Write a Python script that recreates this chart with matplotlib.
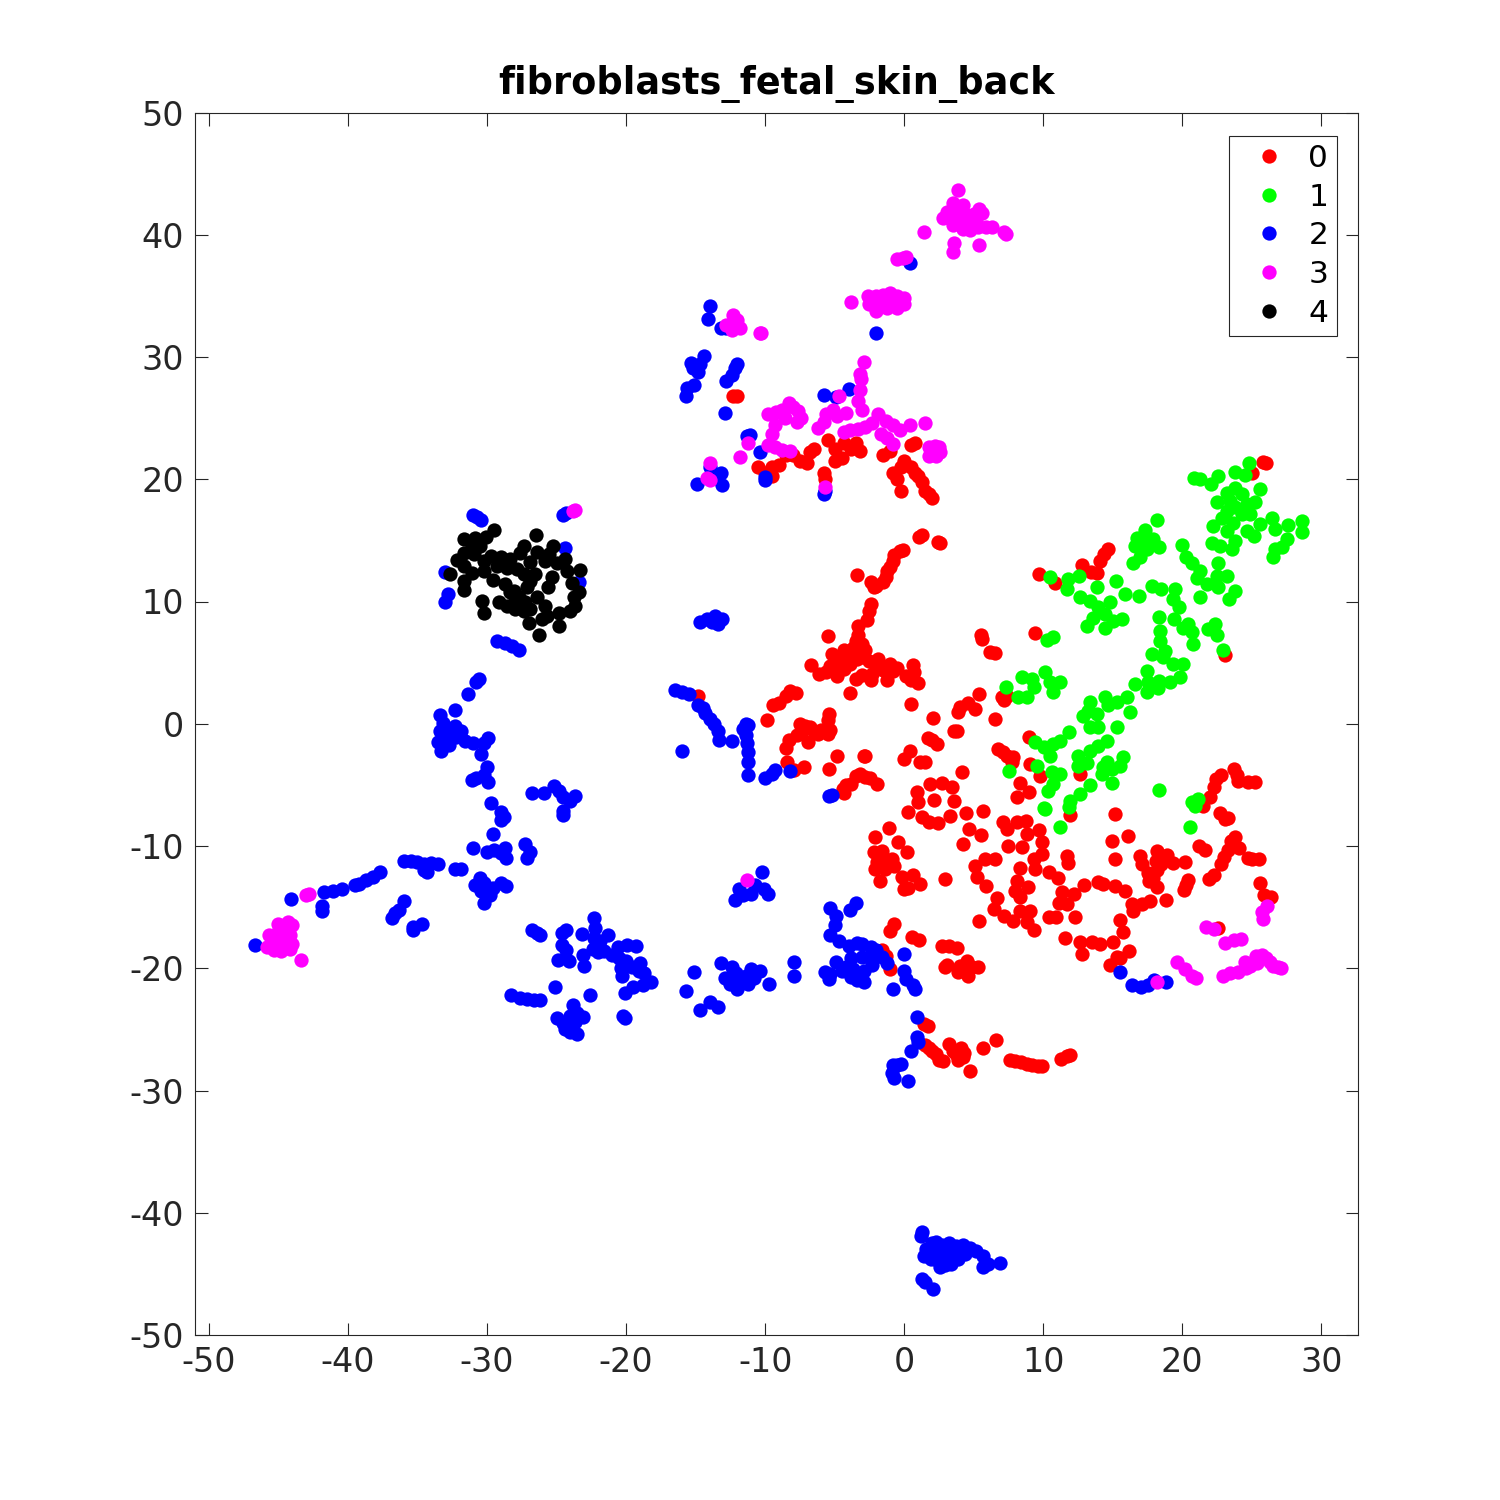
import matplotlib
matplotlib.use("Agg")
import matplotlib.pyplot as plt
import numpy as np

plt.rcParams["axes.unicode_minus"] = False

title = "fibroblasts_fetal_skin_back"
labels = ["0", "1", "2", "3", "4"]
colors = ["#ff0000", "#00ff00", "#0000ff", "#ff00ff", "#000000"]
xticks = [-50, -40, -30, -20, -10, 0, 10, 20, 30]
yticks = [-50, -40, -30, -20, -10, 0, 10, 20, 30, 40, 50]

# values, one list per cluster label
cluster0 = [
    (-12.3, 26.8), (-12, 26.8), (-10.5, 21), (-10, 20.5), (-9.5, 20.3), (-9.5, 21), (-9, 21.2), (-8.5, 22),
    (-8, 22), (-7.5, 21.5), (-7, 21.3), (-6.8, 22.2), (-6.5, 22.5), (-5.8, 20.5), (-5.7, 20), (-5.5, 23.2),
    (-5, 22.5), (-5, 21.5), (-4.5, 21.7), (-4.3, 23), (-3.8, 22.5), (-3.5, 23), (-3.2, 22.3), (-1.5, 22),
    (-1, 22.3), (-0.8, 20.5), (-0.5, 20), (-0.2, 21), (0, 21.5), (-0.2, 19), (0.5, 22.8), (0.8, 23),
    (0.5, 21), (0.8, 20.5), (1, 20.3), (1.3, 19.8), (1.5, 19), (1.8, 18.8), (2, 18.5),
    (1.1, 15.3), (1.3, 15.4), (2.4, 14.9), (2.6, 14.8), (-0.3, 14.1), (-0.1, 14.2), (-0.7, 13.8), (-0.8, 13.3),
    (-1, 12.8), (-1.2, 12.5), (-3.4, 12.2), (-1.3, 12), (-1.5, 11.6), (-2, 11.3), (-2.4, 11.6), (-2.2, 11.2),
    (-2.4, 9.8), (-2.5, 9.2), (-2.7, 8.5), (-3.3, 8), (-3.3, 7.3), (-3.5, 6.8), (-3, 6.5), (-2.8, 6),
    (-3.7, 6.2), (-4, 5.9), (-4.5, 5.5), (-5, 5), (-5.3, 4.7), (-5.6, 4.2), (-4.3, 4.5), (-3.9, 4.9),
    (-3.4, 5.3), (-3, 5.5), (-2.5, 5.1), (-2, 4.8), (-1.5, 4.4), (-1, 4.9), (-0.8, 4.3), (-0.5, 4.6),
    (-1.9, 5.3), (-2.3, 4.1), (-3, 4), (-3.5, 3.7), (-3.9, 2.5), (-5.5, 7.2), (-6.7, 4.8), (-6.1, 4.1),
    (-4.8, 3.9), (-5.2, 5.7), (-4.3, 6), (-2.4, 3.6), (-1.2, 3.6), (0.1, 3.9), (0.5, 3.6), (1, 3.3),
    (0.6, 4.8), (0.7, 4.2), (0.5, 1.6), (-14.8, 2.3),
    (-9.9, 0.3), (-9.4, 1.5), (-9, 1.7), (-8.5, 2.3), (-8.2, 2.7), (-7.8, 2.5), (-7.5, 0), (-7.3, -0.5),
    (-7.1, -0.2), (-6.8, -0.3), (-6.5, -0.6), (-6.2, -0.8), (-6, -0.5), (-5.5, 0.3), (-5.4, 0.8), (-5.5, -0.8),
    (-5.3, -0.5), (-7.7, -0.9), (-8.3, -1.3), (-8.5, -2), (-8.4, -3.1), (-7.9, -3.8), (-7.2, -3.5), (-6.9, -1.5),
    (-4.8, -2.6), (-2.9, -2.6), (-5.4, -3.7), (-3.5, -4.3), (-3.2, -4.1), (-3.8, -4.9), (-4.2, -5), (-4.3, -5.7),
    (-4.4, -5.3), (1.7, -1.2), (2, -1.3), (2.1, 0.5), (3.6, -0.6), (3.8, -0.6),
    (3.9, 1), (4, 1.4), (4.6, 1.7), (5.1, 1.2), (5.4, 2.4), (6.5, 0.4), (5.5, 7.3),
    (5.6, 6.9), (6.2, 5.9), (6.5, 5.8), (7, 2.2), (7.4, 2.3), (9.4, 7.4), (7.19, 1.93), (9.73, 12.24),
    (10.85, 11.5), (12.77, 13), (13.4, 12.4), (13.85, 12.32), (14.09, 13.33), (14.4, 13.9), (14.69, 14.28), (23.08, 5.64),
    (9.01, -1.12), (7.14, -2.35), (7.86, -2.75),
    # middle of the red group
    (-2.8, -2.6), (-0.04, -2.89), (0.43, -2.21), (1.15, -3.16), (1.51, -3.16), (4.15, -3.98), (2.35, -1.66), (1.87, -4.93),
    (2.71, -4.88), (3.43, -5.2), (0.91, -5.61), (0.96, -6.43), (2.11, -6.24), (3.55, -6.3), (0.27, -7.25), (1.27, -7.66),
    (1.75, -8.01), (2.42, -8.09), (3.31, -7.52), (4.46, -7.3), (4.63, -8.61), (5.66, -7.17), (5.51, -9.1), (4.2, -9.84),
    (7.14, -8.07), (7.38, -8.61), (8.1, -8.07), (8.75, -7.93), (8.82, -9.02), (9.66, -8.69), (7.5, -9.98), (8.46, -10.06),
    (9.9, -9.7), (9.3, -11.07), (9.9, -10.66), (9.42, -11.88), (10.38, -12.16), (11.05, -12.62), (11.7, -10.79), (11.75, -11.39),
    (6.55, -11.07), (5.83, -11.07), (5.11, -11.61), (5.23, -12.56), (5.87, -13.25), (8.3, -11.8), (8.1, -12.84), (8.94, -13.33),
    (7.98, -13.65), (6.66, -14.25), (6.43, -15.15), (7.19, -15.7), (7.86, -16.11), (8.34, -15.29), (9.06, -15.29), (8.82, -16.24),
    (9.3, -16.87), (5.4, -16.11), (8.34, -14.2), (10.38, -15.84), (10.93, -15.84), (12.3, -15.84), (11.7, -14.75), (11.1, -14.69),
    (11.34, -13.79), (12.22, -13.93), (12.9, -13.16), (13.97, -12.92), (14.33, -13.11), (15.17, -7.39), (14.93, -9.57), (16.06, -9.16),
    (15.17, -11.07), (16.97, -10.79), (17.09, -11.47), (15.17, -13.25), (15.89, -13.65), (16.37, -14.75), (16.44, -15.29), (17.09, -14.75),
    (17.69, -14.47), (18.17, -13.38), (17.57, -12.84), (18.17, -10.38), (15.53, -16.05), (15.77, -17.06), (11.53, -17.52), (12.66, -17.88),
    (13.5, -17.88), (14.09, -18.02), (15.05, -17.88), (16.2, -18.62), (12.78, -18.83), (15.29, -19.1), (2.95, -12.7), (2.71, -18.15),
    (3.19, -18.2), (3.79, -18.37), (0.55, -17.47), (1.1, -17.66), (-0.76, -16.38), (-1, -16.93), (-2.08, -9.24), (-1.08, -8.53),
    (-0.48, -9.65), (0.19, -10.52), (-2.2, -10.52), (-1.6, -10.38), (-1.96, -11.34), (-1.36, -11.2), (-0.88, -11.07), (-2.08, -11.88),
    (-1.36, -11.88), (-0.76, -11.61), (-1.72, -12.84), (-0.16, -12.56), (0.67, -12.35), (1.15, -13.11), (-0.04, -13.52), (0.31, -13.46),
    (-2.8, -4.39), (-2.44, -4.44), (-1.96, -4.93), (6.78, -2.07), (7.38, -2.62), (7.74, -3.16), (9.06, -3.3), (9.78, -4.25),
    (12.66, -4.1), (8.34, -4.88), (9.01, -5.56), (8.1, -5.97), (11.94, -7.44), (17.9, -12.6), (18.2, -12), (18.5, -11.5),
    (17.5, -12.2), (18.1, -11.2),
    # right side
    (18.8, -14.4), (18.9, -10.7), (19.3, -11.4), (20.1, -13.6), (20.2, -11.3), (20.4, -12.8), (20.3, -13.2),
    (21.2, -10), (21.6, -10.3), (21.9, -12.7), (22.3, -12.4), (22.6, -16.7), (23.1, -7.8), (22.7, -7.3), (23.3, -7.7),
    (23.5, -9.6), (23.8, -9.3), (23.3, -10.3), (24.1, -10.2), (23, -10.9), (22.8, -11.5), (24.7, -11), (25, -11.1),
    (25.5, -11.1), (25.6, -13), (25.9, -14), (26.4, -14.2), (21.5, -6.7), (22, -6), (22.3, -5.2), (22.4, -4.5),
    (22.8, -4.2), (23.7, -3.7), (23.9, -4.2), (24, -4.7), (24.7, -4.8), (25.2, -4.8), (25.8, 21.4), (26, 21.3), (25, 20.5),
    # bottom
    (-1.6, -18.5), (-1.3, -19), (-1, -20.1), (14.8, -19.7), (15.5, -19.2),
    (2.9, -19.9), (3.1, -19.7), (4, -19.8), (4.5, -19.4), (4.9, -19.9), (3.9, -20.3),
    (4.6, -20.6), (5.3, -19.9), (1.4, -24.6), (1.7, -24.7), (1.5, -26.3), (1.8, -26.5), (2, -26.8), (2.3, -27),
    (2.5, -27.5), (2.8, -27.6), (3.2, -26.2), (3.5, -26.8), (3.7, -27), (3.9, -27.5), (4.1, -26.5), (4.3, -26.9),
    (4.2, -27.3), (4.7, -28.4), (5.7, -26.5), (6.6, -25.9), (7.6, -27.5), (8, -27.6), (8.4, -27.7), (8.8, -27.8),
    (9.2, -27.9), (9.6, -28), (9.9, -28), (11.3, -27.4), (11.7, -27.2), (11.9, -27.1),
]

cluster1 = [
    (24.82, 21.37), (23.79, 20.63), (24.51, 20.36), (22.6, 20.28), (22.05, 19.59), (20.85, 20.09), (21.28, 20), (25.59, 19.19),
    (23.79, 19.32), (23.2, 18.91), (24.27, 18.78), (22.52, 18.15), (23.43, 18.23), (25.23, 18.1), (24.63, 17.96), (23.79, 17.69),
    (23.2, 17.41), (24.27, 17.14), (24.87, 17.14), (22.84, 16.87), (22.24, 16.19), (23.67, 16.46), (24.63, 15.78), (25.16, 15.37),
    (25.59, 16.38), (26.48, 16.87), (26.67, 15.91), (27.63, 16.27), (28.63, 16.6), (28.63, 15.7), (27.51, 15.1), (27.15, 14.42),
    (26.67, 14.28), (26.55, 13.6), (23.2, 15.78), (23.79, 14.96), (23.55, 14.28), (22.12, 14.82), (22.72, 14.55), (19.96, 14.61),
    (20.27, 13.6), (20.68, 13.19), (21.28, 12.5), (21.04, 11.96), (22.6, 13.11), (23.2, 12.1), (22.48, 12.1), (21.76, 11.42),
    (22.6, 11.15), (21.28, 10.33), (23.79, 10.87), (23.39, 10.19), (18.16, 16.65), (17.32, 15.86), (16.72, 15.23), (17.2, 14.96),
    (17.92, 15.1), (18.35, 14.47), (16.61, 14.55), (17.44, 14.28), (16.96, 13.6), (16.49, 13.13), (12.58, 12.1), (11.81, 11.83),
    (11.74, 11.01), (10.49, 12.02), (15.24, 11.69), (15.89, 10.65), (13.85, 11.2), (16.92, 10.46), (17.8, 11.28), (18.45, 11.01),
    (12.65, 10.33), (13.37, 10.05), (14.81, 9.92), (19.48, 11.01), (19.36, 10.19), (19.77, 9.59), (13.97, 9.51), (14.45, 8.96),
    (15.65, 8.56), (15.05, 8.42), (13.18, 8), (13.61, 8.69), (14.45, 7.87), (18.35, 8.77), (19.41, 8.56), (20.44, 8.2),
    (18.4, 7.6), (20.08, 7.87), (20.8, 6.51), (20.68, 7.47), (21.88, 7.74), (22.36, 8.2), (22.48, 7.25), (22.91, 6.02),
    (10.25, 6.84), (10.69, 7.06), (18.4, 6.78), (18.76, 5.97), (17.85, 5.69), (18.64, 5.42), (19.36, 4.88), (20.08, 4.88),
    (17.44, 4.33), (19.84, 3.79), (19.12, 3.38), (18.35, 3.51), (16.6, 3.24), (17.56, 3.38), (17.44, 2.56), (18.28, 2.91),
    (16.01, 2.21), (15.29, 1.82), (14.45, 2.21), (16.25, 1), (13.37, 1.74), (13.25, 1.06), (12.89, 0.6), (14.69, 1.55),
    (13.85, 0.79), (13.37, -0.3), (13.97, -0.3), (15.29, -0.3), (8.46, 3.79), (9.18, 3.65), (10.14, 4.2), (11.21, 3.38),
    (10.49, 3.38), (9.3, 2.97), (10.73, 2.56), (7.33, 2.97), (8.22, 2.2), (8.82, 2.15), (11.88, -0.71), (9.42, -1.53),
    (11.21, -1.39), (10.73, -1.66), (10.02, -1.94), (10.49, -2.62), (14.57, -1.39), (13.97, -1.8), (13.37, -2.21), (12.53, -2.62),
    (13.13, -3.25), (12.53, -3.44), (15.72, -2.75), (14.57, -3.16), (15.53, -3.44), (14.2, -4.12), (14.93, -4.88), (14.93, -3.71),
    (14.33, -3.57), (10.61, -3.98), (11.21, -4.12), (10.73, -4.94), (10.37, -5.48), (9.54, -3.44), (7.57, -3.84), (13.37, -5.02),
    (12.65, -5.75), (11.93, -6.3), (11.88, -6.84), (10.02, -6.9), (10.15, -6.95), (11.17, -8.48), (18.35, -5.43), (20.68, -6.43),
    (21.16, -6.16), (20.92, -6.7), (20.56, -8.42),
]

cluster2 = [
    (-14, 34.2), (-14.1, 33.1), (-13.2, 32.4), (-12.8, 32.4), (-14.4, 30.1), (-14.7, 29.4), (-15.3, 29.5), (-15.2, 29.1),
    (-14.8, 28.8), (-15.1, 27.7), (-15.6, 27.5), (-15.7, 26.8), (-12.4, 28.5), (-12.2, 29.1), (-12, 29.4), (-12.8, 28),
    (-12.9, 25.4), (-11.3, 23.5), (-11.1, 23.6), (-10.4, 22.2), (-10, 20.2), (-10, 19.9), (-13.2, 20.5), (-13.7, 20.1),
    (-14, 21), (-13.1, 19.5), (-14.9, 19.6), (-5.8, 18.8), (-5.7, 19), (-5.8, 26.9), (-4.9, 26.7), (-4, 27.4),
    (-2, 32), (0.4, 37.7), (-31, 17.1), (-30.7, 16.9), (-30.4, 16.7), (-24.5, 17.1), (-24.3, 17.2), (-24.4, 14.4),
    (-33, 12.4), (-23.4, 11.6), (-33, 10), (-32.8, 10.6), (-14.7, 8.3), (-14.2, 8.6), (-13.8, 8.3), (-13.4, 8.2),
    (-13.6, 8.8), (-13.1, 8.6), (-29.3, 6.8), (-28.7, 6.6), (-28.2, 6.4), (-27.7, 6), (-30.6, 3.7), (-30.8, 3.4),
    (-31.4, 2.4), (-32.3, 1.1), (-33.4, 0.7), (-33.2, 0.1), (-33.4, -0.6), (-33, -0.3), (-32.6, -0.4), (-32.3, -0.2),
    (-32.7, -1), (-32.2, -1.1), (-31.9, -0.6), (-33.5, -1.5), (-33.3, -2.2), (-32.7, -1.7), (-31.6, -1.4), (-31, -1.6),
    (-30.2, -1.6), (-29.9, -1.2), (-30.4, -2.5), (-30, -3.5), (-30.2, -4.2), (-31.1, -4.6), (-30.8, -4.4), (-29.9, -4.8),
    (-29.7, -6.5), (-29, -7.2), (-28.8, -7.6), (-29, -7.9), (-29.6, -9), (-31, -10.2), (-30, -10.5), (-29.5, -10.3),
    (-29, -10.6), (-28.7, -10.2), (-28.6, -11), (-27.3, -9.8), (-26.9, -10.5), (-27.1, -11), (-31.9, -11.9), (-32.3, -11.9),
    (-30.5, -12.6), (-30.2, -13), (-29.6, -13.4), (-29, -13), (-28.6, -13.3), (-30.9, -13.2), (-30.4, -13.7), (-29.8, -14),
    (-30.2, -14.7), (-37.7, -12.1), (-38.2, -12.5), (-38.7, -12.8), (-39.2, -13.1), (-39.5, -13.2), (-40.4, -13.5), (-41.1, -13.7),
    (-41.7, -13.8), (-41.9, -14.9), (-41.9, -15.3), (-44.1, -14.3), (-36, -11.2), (-35.5, -11.2), (-35, -11.3), (-34.5, -11.5),
    (-34, -11.4), (-33.5, -11.5), (-34.5, -12), (-34.3, -12.1), (-36, -14.5), (-36.3, -15.2), (-36.6, -15.5), (-36.8, -15.9),
    (-34.7, -16.4), (-35.3, -16.6), (-35.3, -16.9), (-46.7, -18.1), (-26.8, -5.7), (-25.9, -5.7), (-25.2, -5.1), (-24.8, -5.5),
    (-24.5, -6), (-24, -6.3), (-23.7, -5.9), (-24.5, -7.1), (-24.5, -7.5), (-28.3, -22.2), (-27.6, -22.4), (-27.1, -22.5),
    (-26.6, -22.6), (-26.2, -22.6), (-26.8, -16.9), (-26.4, -17.1), (-26.2, -17.3), (-24.6, -17.1), (-24.3, -16.9), (-23.2, -17.2),
    (-22.3, -15.9), (-22.2, -16.7), (-22.3, -17.5), (-21.9, -17.8), (-21.3, -17.3), (-24.6, -18.1), (-24.3, -18.5), (-24.9, -19.3),
    (-24.1, -19.4), (-23.1, -18.9), (-23, -19.8), (-22.4, -18.4), (-22, -18.7), (-21.6, -18.6), (-21, -18.9), (-20.6, -18.3),
    (-19.9, -18.1), (-19.3, -18.2), (-20.5, -19.2), (-20, -19.4), (-19.6, -19.9), (-19, -19.6), (-19.1, -20.2), (-20.4, -20),
    (-20.3, -20.6), (-18.7, -20.4), (-18.2, -21.1), (-18.8, -21.4), (-19.5, -21.5), (-20.1, -22), (-25.1, -21.5), (-23.8, -23),
    (-22.6, -22.2), (-24, -23.9), (-23.5, -23.7), (-25, -24.1), (-24.5, -24.5), (-23.7, -24.4), (-23.1, -24), (-24.4, -25),
    (-24, -25.2), (-23.5, -25.4), (-20.2, -23.9), (-20.1, -24.1), (-15.7, -21.9), (-15.1, -20.3), (-14.7, -23.4), (-14, -22.8),
    (-13.4, -23.2), (-13.2, -19.6), (-12.9, -20.8), (-12.4, -19.9), (-12.1, -20.4), (-11.7, -21), (-11.4, -20.6), (-11, -20.1),
    (-12.5, -21.3), (-12, -21.7), (-11.2, -21.3), (-10.8, -20.8), (-10.4, -20.2), (-9.7, -21.3), (-7.9, -19.5), (-7.9, -20.6),
    (-10.7, -13.2), (-10.2, -12.1), (-10.1, -13.5), (-9.8, -13.9), (-11, -13.9), (-11.6, -14), (-12.2, -14.4), (-11.9, -13.5),
    (-5.3, -15.1), (-4.9, -15.7), (-3.9, -15.2), (-3.5, -14.7), (-5, -16.5), (-5.3, -17.3), (-4.7, -17.8), (-4, -18.2),
    (-3.4, -17.9), (-3, -18), (-2.4, -18.3), (-2, -18.5), (-3.8, -19.2), (-3, -19.1), (-2.5, -19.1), (-1.6, -19.1),
    (-1.2, -19.6), (-5.7, -20.3), (-5.3, -20.5), (-4.9, -19.5), (-4.5, -20.2), (-4.2, -19.9), (-3.7, -20.1), (-2.9, -20.2),
    (-2.3, -19.7), (-5.4, -20.9), (-3.8, -20.7), (-3.4, -21), (-2.9, -21.1), (0, -20.2), (0, -18.8), (0.1, -20.9),
    (-0.8, -21.7), (0.6, -21.4), (0.8, -21.7), (0.9, -24), (0.9, -25.6), (1, -26), (0.5, -26.8), (-0.8, -27.9),
    (-0.5, -27.9), (-0.2, -27.8), (-0.9, -28.6), (-0.7, -29), (0.3, -29.2), (15.5, -20.3), (16.4, -21.4), (17, -21.5),
    (17.5, -21.4), (18, -21), (18.8, -21.1), (-16.5, 2.8), (-16, 2.6), (-15.5, 2.4), (-14.8, 1.5), (-14.5, 1.3),
    (-14.3, 0.9), (-14, 0.4), (-13.7, 0), (-13.4, -0.6), (-13.3, -1.3), (-12.4, -1.4), (-11.6, -0.4), (-11.4, 0),
    (-11.2, -0.1), (-11.4, -0.9), (-11.3, -1.6), (-11.2, -2.3), (-11.2, -3.1), (-11.2, -4.2), (-16, -2.2), (-10, -4.4),
    (-9.5, -4.1), (-9.3, -3.8), (-8.2, -3.9), (-5.4, -5.9), (-5.2, -5.8), (1.2, -41.9), (1.3, -41.6), (2, -42.5),
    (2.3, -42.4), (2.7, -42.6), (3.2, -42.5), (3.7, -42.7), (4.2, -42.6), (4.7, -42.9), (5.2, -43.1), (5.7, -43.5),
    (1.6, -43), (2, -43.2), (2.5, -43.3), (3, -43.2), (3.5, -43.4), (4, -43.2), (4.4, -43.4), (1.4, -43.5),
    (1.9, -43.8), (2.5, -44), (3, -44), (3.4, -44.2), (3.9, -43.8), (2.6, -44.4), (2.9, -44.3), (5.7, -44.4),
    (6, -44.2), (6.9, -44.1), (1.3, -45.4), (1.5, -45.7), (2.1, -46.2),
]

cluster3 = [
    (3.9, 43.7), (3.5, 42.6), (4.2, 42.4), (5.4, 42.1), (3.1, 41.9), (3.8, 41.8), (4.4, 41.7), (5, 41.7),
    (5.6, 41.8), (2.8, 41.4), (3.4, 41.3), (4, 41.3), (4.6, 41), (5.2, 41.1), (3.5, 40.8), (4.2, 40.5),
    (4.7, 40.4), (5.3, 40.6), (5.9, 40.6), (6.3, 40.6), (7.2, 40.2), (7.3, 40.1), (3.6, 39.3), (3.5, 38.6),
    (5.4, 39.2), (1.4, 40.2), (-0.5, 38), (-0.1, 38.1), (0.1, 38.2), (-3.8, 34.5), (-2.6, 35), (-2.5, 34.3),
    (-2, 35), (-1.5, 35.1), (-1, 35.2), (-0.5, 35), (-2, 34.3), (-1.5, 34.5), (-1, 34.6), (-0.5, 34.4),
    (0, 34.8), (-1.2, 34), (-0.5, 34), (0, 34.3), (-2, 33.8), (-12.8, 32.6), (-12.3, 33.4), (-12, 33), (-12.4, 32.2),
    (-11.8, 32.4), (-10.3, 32), (-10.4, 32), (-2.9, 29.6), (-3.2, 28.6), (-3.1, 28.2), (-3.2, 27.3), (-3.3, 26.4),
    (-3, 25.7), (-9.8, 25.3), (-9.2, 25.5), (-8.8, 25.7), (-8.3, 26.2), (-8, 25.9), (-7.6, 25.6), (-7.4, 25),
    (-7.7, 24.7), (-8.6, 25), (-9.3, 24.4), (-9.5, 23.7), (-4.7, 26.8), (-5.6, 25.3), (-5.1, 25.7), (-4.8, 25.2),
    (-4.2, 25.4), (-5.8, 24.7), (-6.2, 24.2), (-4.3, 23.9), (-3.9, 24), (-3.3, 24.1), (-2.8, 24.3), (-2.3, 24.6),
    (-1.9, 25.3), (-1.3, 24.8), (-0.8, 24.4), (-0.3, 24), (0.4, 24.4), (1.5, 24.6), (-1.7, 23.7), (-1.2, 23.4),
    (-0.8, 22.9), (-9.8, 22.8), (-9.3, 22.6), (-8.8, 22.4), (-8.2, 22.3), (-11.2, 23), (-11.8, 21.8), (1.8, 22.6),
    (2.2, 22.7), (2.5, 22.6), (1.8, 21.9), (2.3, 21.9), (2.6, 22.2), (-14, 21.3), (-14.2, 20.1), (-14, 19.9),
    (-5.7, 19.4), (-23.8, 17.4), (-23.7, 17.5), (-11.3, -12.8), (-42.8, -13.9), (-43, -14), (-45, -16.4), (-44.3, -16.2),
    (-45, -17), (-44.5, -16.9), (-44, -16.5), (-45.7, -17.3), (-45.2, -17.4), (-44.7, -17.5), (-44.2, -17.3), (-45.5, -18),
    (-45, -18), (-44.5, -18.1), (-44, -18), (-45.8, -18.3), (-45.3, -18.5), (-44.8, -18.6), (-44.2, -18.4), (-43.4, -19.3),
    (26.1, -14.9), (25.7, -15.4), (25.8, -16), (19.6, -19.5), (20.2, -20.1), (20.7, -20.6), (21, -20.8), (18.2, -21.1),
    (21.7, -16.6), (22.3, -16.8), (23.1, -17.9), (23.7, -17.7), (24.2, -17.6), (22.9, -20.6), (23.4, -20.4), (24, -20.3),
    (24.5, -19.5), (24.9, -19.8), (25.3, -19), (25.7, -18.9), (26, -19.2), (26.3, -19.5), (26.5, -19.8), (26.9, -19.9),
    (27.1, -20), (25.4, -19.6), (24.6, -20),
]

cluster4 = [
    (-29.48, 15.83), (-30.05, 15.29), (-30.9, 15.23), (-31.64, 15.15), (-31.1, 14.55), (-30.5, 14.55), (-31.68, 14), (-30.97, 13.87),
    (-32.16, 13.38), (-31.68, 12.92), (-32.64, 12.24), (-31.08, 12.37), (-31.68, 11.69), (-31.68, 10.96), (-30.25, 12.5), (-30.25, 13.33),
    (-29.72, 13.74), (-29, 13.65), (-28.33, 13.46), (-29.29, 12.92), (-28.57, 12.73), (-27.85, 12.65), (-29.6, 11.75), (-28.69, 11.42),
    (-28.09, 10.87), (-29.17, 10), (-28.57, 9.65), (-27.97, 9.37), (-27.73, 10.33), (-27.25, 9.92), (-26.89, 9.37), (-27.37, 9.24),
    (-27.01, 8.28), (-26.05, 8.56), (-26.29, 7.28), (-24.85, 8), (-30.37, 10.06), (-30.25, 9.02), (-26.48, 15.45), (-27.37, 14.55),
    (-27.61, 14), (-26.41, 14.06), (-26.89, 13.27), (-27.37, 12.24), (-26.89, 11.69), (-26.53, 12.24), (-27.13, 11.15), (-26.41, 10.33),
    (-25.81, 9.65), (-25.69, 8.83), (-24.85, 9.1), (-24.02, 9.24), (-23.66, 9.65), (-23.42, 10.74), (-23.9, 11.55), (-24.26, 12.51),
    (-24.42, 13.46), (-24.97, 13.11), (-25.29, 14.55), (-25.57, 13.87), (-25.81, 13.33), (-23.3, 12.59), (-25.33, 12.02), (-25.65, 11.2),
    (-27.97, 10.33), (-28.33, 10.74), (-23.78, 10.33),
]

clusters = [cluster0, cluster1, cluster2, cluster3, cluster4]

fig = plt.figure(figsize=(15, 15), dpi=100)
ax = fig.add_axes([0.13, 0.11, 0.775, 0.815])

for pts, col, lab in zip(clusters, colors, labels):
    pts = np.array(pts)
    ax.plot(pts[:, 0], pts[:, 1], linestyle="none", marker="o", ms=10.3, mfc=col, mec=col, mew=0, label=lab)

ax.set_xlim(-51, 32.6)
ax.set_ylim(-50, 50)
ax.set_xticks(xticks)
ax.set_yticks(yticks)
ax.tick_params(direction="in", top=True, right=True, length=9, width=0.8, labelsize=24,
               labelcolor="#262626", color="#262626", pad=8)
for s in ax.spines.values():
    s.set_linewidth(0.8)
    s.set_color("#262626")
ax.set_title(title, fontsize=26.4, fontweight="bold", pad=13)

leg = ax.legend(loc="upper right", bbox_to_anchor=(0.982, 0.981), borderaxespad=0, fontsize=22.5, fancybox=False,
                framealpha=1, edgecolor="#262626", labelspacing=0.31, handlelength=2.04, handletextpad=0.23,
                borderpad=0.26, numpoints=1)
leg.get_frame().set_linewidth(0.8)

fig.savefig("out.png", dpi=100)
